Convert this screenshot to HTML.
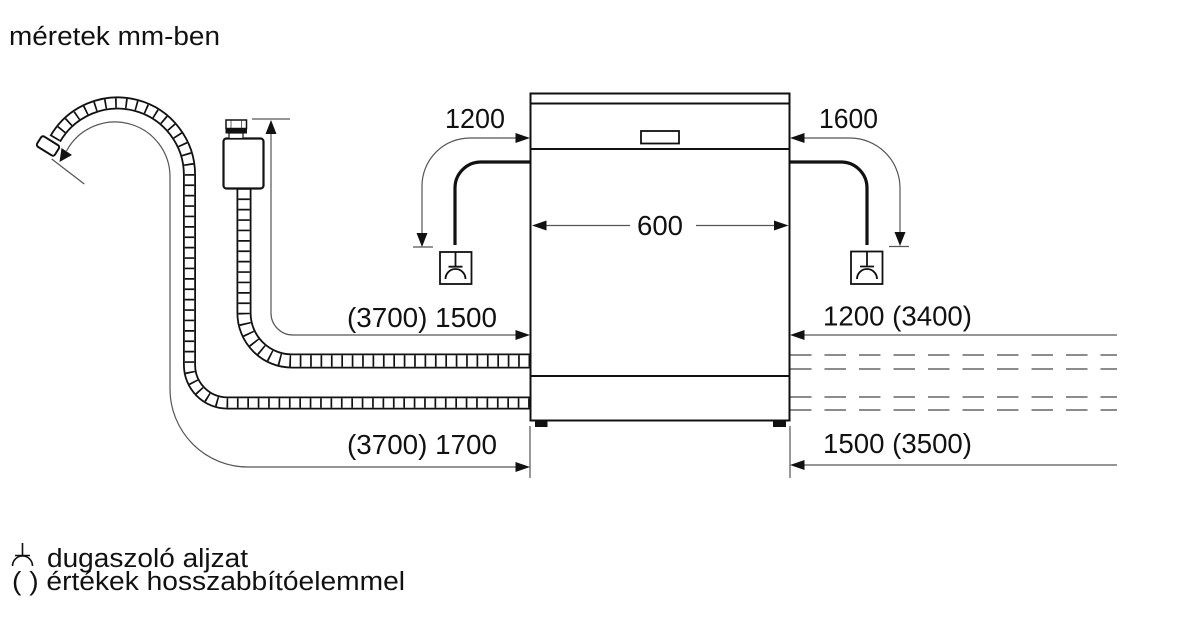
<!DOCTYPE html>
<html>
<head>
<meta charset="utf-8">
<style>
  html,body{margin:0;padding:0;background:#fff;}
  svg{display:block;}
  text{font-family:"Liberation Sans", Arial, sans-serif; fill:#111;}
</style>
</head>
<body>
<svg width="1200" height="630" viewBox="0 0 1200 630" xmlns="http://www.w3.org/2000/svg">
  <rect x="0" y="0" width="1200" height="630" fill="#fff"/>

  <!-- Title -->
  <text x="9" y="45" font-size="25.5" textLength="211" lengthAdjust="spacingAndGlyphs">méretek mm-ben</text>

  <!-- ===== Drain hose (large curve) ===== -->
  <g fill="none">
    <path d="M55.2,138.9 A72,72 0 0 1 189.5,175 V365 A38,38 0 0 0 227.5,403 H530" stroke="#111" stroke-width="13"/>
    <path d="M55.2,138.9 A72,72 0 0 1 189.5,175 V365 A38,38 0 0 0 227.5,403 H530" stroke="#fff" stroke-width="9.4"/>
    <path d="M55.2,138.9 A72,72 0 0 1 189.5,175 V365 A38,38 0 0 0 227.5,403 H530" stroke="#111" stroke-width="9.4" stroke-dasharray="1.7 8.7"/>
  </g>
  <!-- drain hose end nut -->
  <rect x="-10.5" y="-6" width="21" height="12" rx="2.5" transform="translate(48,146) rotate(32)" fill="#fff" stroke="#111" stroke-width="2"/>

  <!-- ===== Inlet hose ===== -->
  <g fill="none">
    <path d="M244,188 V313 A48,48 0 0 0 292,361 H530" stroke="#111" stroke-width="15"/>
    <path d="M244,188 V313 A48,48 0 0 0 292,361 H530" stroke="#fff" stroke-width="11.4"/>
    <path d="M244,188 V313 A48,48 0 0 0 292,361 H530" stroke="#111" stroke-width="11.4" stroke-dasharray="1.7 8.7"/>
  </g>
  <!-- connector box -->
  <rect x="223.5" y="138.5" width="40" height="50" rx="3" fill="#fff" stroke="#111" stroke-width="2.2"/>
  <rect x="229" y="133" width="14" height="5.5" fill="#fff" stroke="#111" stroke-width="1.2"/>
  <rect x="225.5" y="128.5" width="21.5" height="5" fill="#111"/>
  <rect x="226" y="120" width="20.5" height="8.5" fill="#fff" stroke="#111" stroke-width="1.5"/>
  <line x1="231" y1="120.5" x2="231" y2="128" stroke="#444" stroke-width="0.8"/>
  <line x1="241.5" y1="120.5" x2="241.5" y2="128" stroke="#444" stroke-width="0.8"/>

  <!-- ===== Dimension lines (thin) ===== -->
  <g fill="none" stroke="#555" stroke-width="1.2">
    <path d="M422,233 V186 A48,48 0 0 1 470,138 H516"/>
    <path d="M413,247 H433"/>
    <path d="M900,232 V188 A50,50 0 0 0 850,138 H804"/>
    <path d="M889,246.5 H909"/>
    <path d="M546,225.5 H630"/>
    <path d="M696,225.5 H775"/>
    <path d="M271,133 V313 A22,22 0 0 0 293,335 H516"/>
    <path d="M252,119 H290"/>
    <path d="M66.5,151 A55,55 0 0 1 170,177.7 V389 A78,78 0 0 0 248,467 H516"/>
    <path d="M51.7,159 L84.3,184"/>
    <path d="M804,335 H1117"/>
    <path d="M804,465 H1117"/>
    <path d="M530,426 V478"/>
    <path d="M790,426 V478"/>
  </g>

  <!-- dashed hose continuation -->
  <g stroke="#666" stroke-width="1.4" stroke-dasharray="21.5 13" fill="none">
    <path d="M790,355 H1117"/>
    <path d="M790,369 H1117"/>
    <path d="M790,397 H1117"/>
    <path d="M790,410 H1117"/>
  </g>

  <!-- Arrowheads -->
  <g fill="#111">
    <polygon points="530,138 515.5,133 515.5,143"/>
    <polygon points="422,247 416.5,233 427.5,233"/>
    <polygon points="790,138 804.5,133 804.5,143"/>
    <polygon points="900,246 894.5,232 905.5,232"/>
    <polygon points="532,225.5 546.5,220.5 546.5,230.5"/>
    <polygon points="788.5,225.5 774,220.5 774,230.5"/>
    <polygon points="271,120 265.5,134 276.5,134"/>
    <polygon points="530,335 515.5,330 515.5,340"/>
    <polygon points="530,467 515.5,462 515.5,472"/>
    <polygon points="790,335 804.5,330 804.5,340"/>
    <polygon points="790,465 804.5,460 804.5,470"/>
    <polygon points="59.5,162 61.5,148 72,155"/>
  </g>

  <!-- ===== Dishwasher body ===== -->
  <g fill="none" stroke="#111" stroke-width="2">
    <rect x="530.5" y="93.5" width="259" height="327"/>
    <line x1="530.5" y1="103.5" x2="789.5" y2="103.5"/>
    <line x1="530.5" y1="149" x2="789.5" y2="149"/>
    <line x1="530.5" y1="376" x2="789.5" y2="376"/>
    <rect x="641" y="131" width="38" height="12.5" stroke-width="1.8"/>
  </g>
  <rect x="535" y="421" width="12.5" height="6" fill="#111"/>
  <rect x="773" y="421" width="13" height="6" fill="#111"/>

  <!-- Power cables -->
  <g fill="none" stroke="#111" stroke-width="3.2">
    <path d="M530,162 H481 A26,26 0 0 0 455,188 V245"/>
    <path d="M790,162 H841 A26,26 0 0 1 867,188 V245"/>
  </g>

  <!-- Sockets -->
  <g fill="none" stroke="#111" stroke-width="1.8">
    <rect x="440" y="252" width="31.5" height="32"/>
    <path d="M455.5,252 V266.7 M448.5,266.7 H462.5 M445.5,279 A10,10 0 0 1 465.5,279"/>
    <rect x="851" y="251.5" width="31.5" height="32.5"/>
    <path d="M867,251.5 V266.5 M860,266.5 H874 M857,279 A10,10 0 0 1 877,279"/>
  </g>

  <!-- Dimension labels -->
  <g font-size="27.5">
    <text x="445" y="128" textLength="60" lengthAdjust="spacingAndGlyphs">1200</text>
    <text x="819" y="128" textLength="59" lengthAdjust="spacingAndGlyphs">1600</text>
    <text x="637" y="235" textLength="46" lengthAdjust="spacingAndGlyphs">600</text>
    <text x="347" y="327" textLength="150" lengthAdjust="spacingAndGlyphs">(3700) 1500</text>
    <text x="347" y="454" textLength="150" lengthAdjust="spacingAndGlyphs">(3700) 1700</text>
    <text x="823" y="325.5" textLength="149" lengthAdjust="spacingAndGlyphs">1200 (3400)</text>
    <text x="823" y="453" textLength="149" lengthAdjust="spacingAndGlyphs">1500 (3500)</text>
  </g>

  <!-- Legend -->
  <g fill="none" stroke="#111" stroke-width="1.6">
    <path d="M22.5,543 V555.5 M15,555.5 H30 M12.5,566 A10,10 0 0 1 32.5,566"/>
  </g>
  <text x="47" y="567" font-size="25.5" textLength="201" lengthAdjust="spacingAndGlyphs">dugaszoló aljzat</text>
  <text x="12" y="590" font-size="25.5" textLength="393" lengthAdjust="spacingAndGlyphs">( ) értékek hosszabbítóelemmel</text>
</svg>
</body>
</html>
